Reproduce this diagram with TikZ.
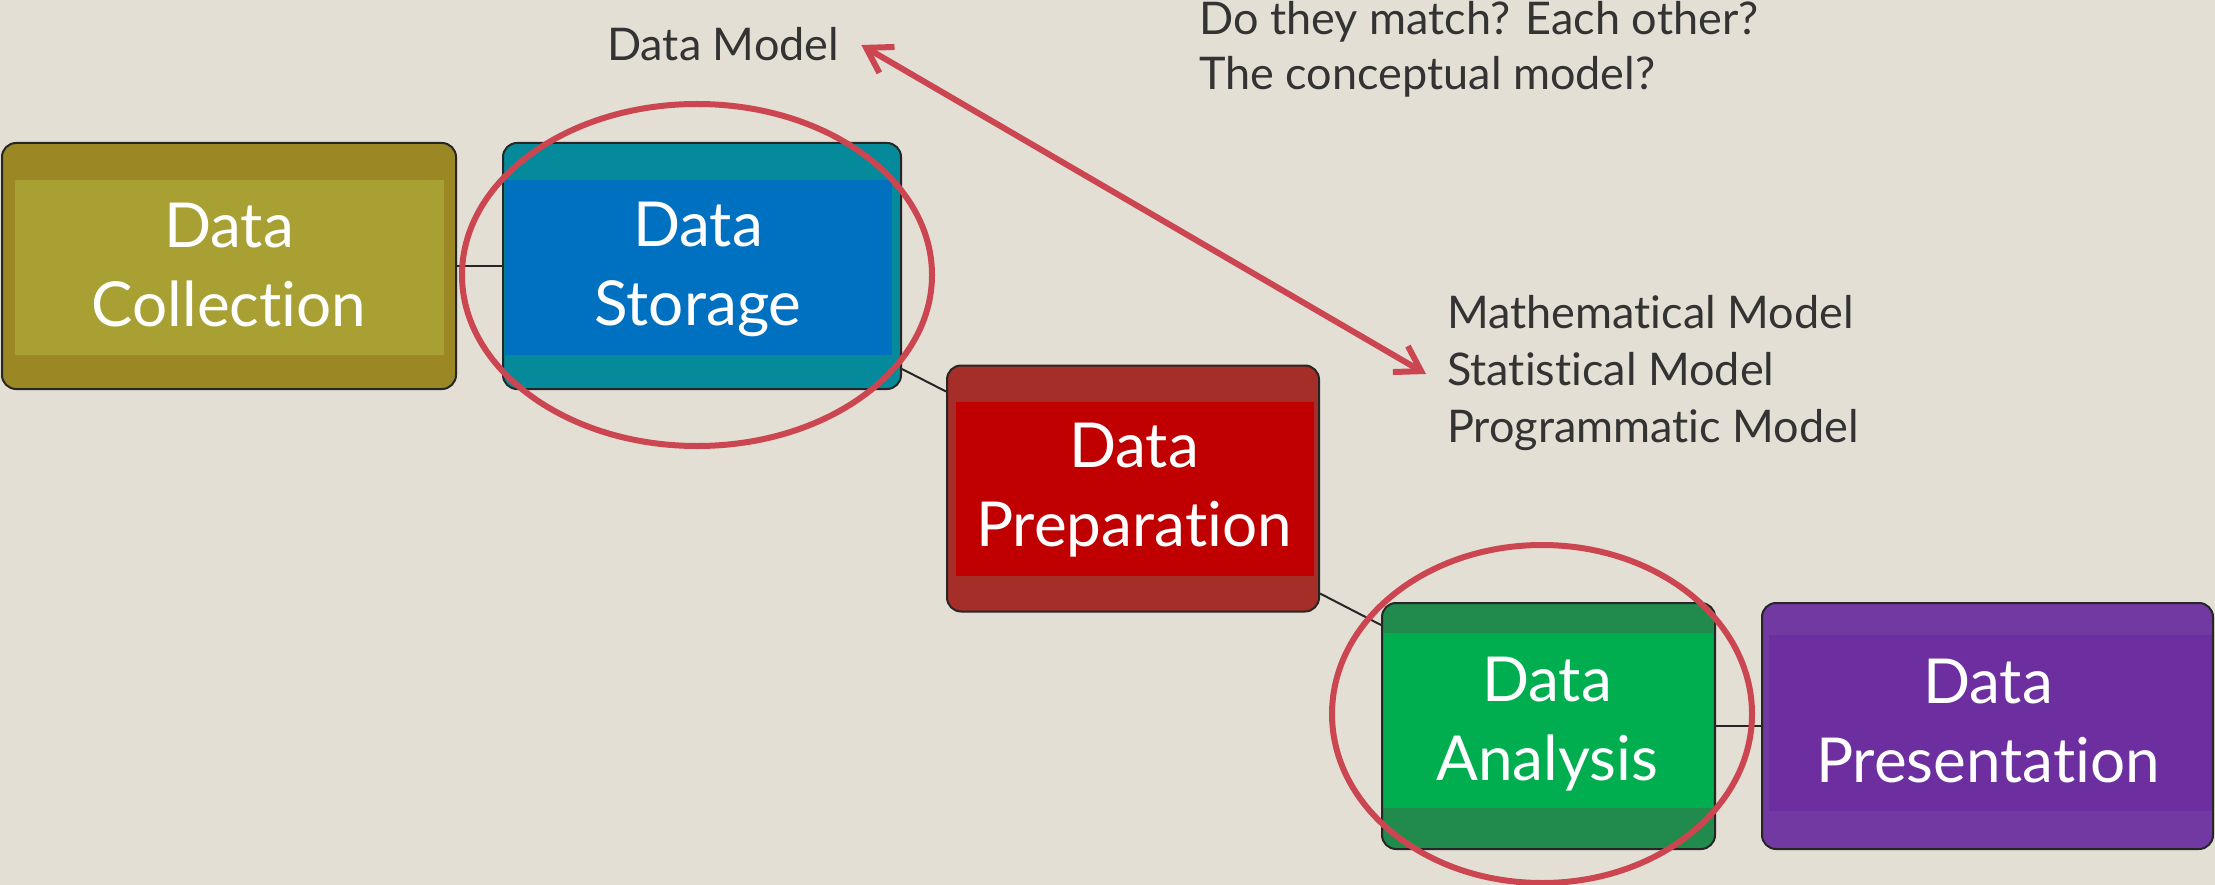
\documentclass[tikz,border=0pt]{standalone}
\usepackage{fontspec}
\setmainfont{Lato}[Ligatures=CommonOff]
\usetikzlibrary{arrows.meta,calc}
\definecolor{bg}{HTML}{E4DFD4}
\definecolor{edge}{HTML}{262626}
\definecolor{olivea}{HTML}{9B8724}
\definecolor{oliveb}{HTML}{A9A034}
\definecolor{teala}{HTML}{058A9B}
\definecolor{tealb}{HTML}{0071C1}
\definecolor{reda}{HTML}{A52E29}
\definecolor{redb}{HTML}{C00000}
\definecolor{greena}{HTML}{218A4D}
\definecolor{greenb}{HTML}{00AE4F}
\definecolor{purpa}{HTML}{7239A2}
\definecolor{purpb}{HTML}{6D2F9F}
\definecolor{ring}{HTML}{CB4650}
\definecolor{note}{HTML}{333333}
\newcommand{\nodepth}[1]{\raisebox{0pt}[\height][0pt]{#1}}
\begin{document}
\begin{tikzpicture}[x=1pt,y=-1pt,
  stagebox/.style={draw=edge, line width=2pt, rounded corners=14pt, inner sep=0pt, minimum height=246pt},
  band/.style n args={5}{path picture={\fill[#1, sharp corners] ([xshift=#2pt,yshift=-#4pt]path picture bounding box.north west) rectangle ([xshift=-#3pt,yshift=#5pt]path picture bounding box.south east);}},
  stagetext/.style={text=white, font=\fontsize{62}{79}\selectfont, align=center, inner sep=0pt},
  notetext/.style={text=note, font=\fontsize{45}{56}\selectfont, align=left, inner sep=0pt, anchor=west},
  link/.style={draw=edge, line width=2pt},
  ringline/.style={draw=ring, line width=6pt},
  twohead/.style={draw=ring, line width=6pt, {Straight Barb[length=24pt,width=30pt]}-{Straight Barb[length=24pt,width=30pt]}}
]
\useasboundingbox[fill=bg] (0,0) rectangle (2215,885);

% stage boxes
\node[stagebox, fill=olivea, band={oliveb}{13}{12}{37}{34}, minimum width=454pt] (coll) at (229,266) {};
\node[stagebox, fill=teala, band={tealb}{2}{9}{37}{34}, minimum width=398pt] (stor) at (702,266) {};
\node[stagebox, fill=reda, band={redb}{9}{5}{36}{36}, minimum width=372pt] (prep) at (1133,488.5) {};
\node[stagebox, fill=greena, band={greenb}{1}{2}{30}{41}, minimum width=333pt] (anal) at (1548.5,726) {};
\node[stagebox, fill=purpa, band={purpb}{7}{1}{32}{38}, minimum width=451pt] (pres) at (1987.5,726) {};

% stage labels
\node[stagetext] (collT) at (229,265) {Data\\\nodepth{Collection}};
\node[stagetext] (storT) at (698,264) {Data\\\nodepth{Storage}};
\node[stagetext] (prepT) at (1134,485) {Data\\\nodepth{Preparation}};
\node[stagetext] (analT) at (1547,719) {Data\\\nodepth{Analysis}};
\node[stagetext] (presT) at (1988,721) {Data\\\nodepth{Presentation}};

% connectors
\draw[link] (coll.east) -- (stor.west);
\draw[link] ([yshift=21pt]stor.south east) -- ([yshift=-27pt]prep.north west);
\draw[link] ([yshift=19pt]prep.south east) -- ([yshift=-23pt]anal.north west);
\draw[link] (anal.east) -- (pres.west);

% highlight rings
\draw[ringline] (697,275) ellipse [x radius=235, y radius=171];
\draw[ringline] (1542,714) ellipse [x radius=210, y radius=169];

% notes
\node[notetext] (dm) at (607,44) {Data Model};
\node[notetext, font=\fontsize{45}{55}\selectfont] (ask) at (1199,49) {Do they match? Each other?\\The conceptual model?};
\node[notetext, font=\fontsize{45}{57}\selectfont] (mods) at (1447,373) {Mathematical Model\\Statistical Model\\Programmatic Model};

% double arrow
\draw[twohead] ([xshift=22pt,yshift=-1pt]dm.east) -- ([xshift=-21pt,yshift=-1pt]mods.west);
\end{tikzpicture}
\end{document}
